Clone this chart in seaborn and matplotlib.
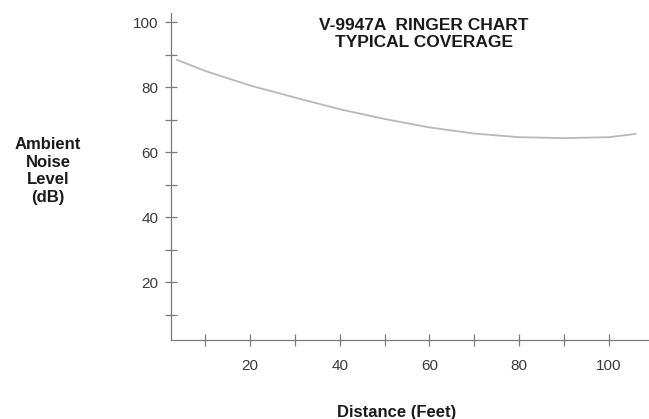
import matplotlib
matplotlib.use("Agg")
import matplotlib.pyplot as plt
import seaborn as sns
import pandas as pd
from matplotlib.ticker import MultipleLocator, FixedLocator

distance = [3.7, 10, 20, 30, 40, 50, 60, 70, 80, 90, 100, 106]
noise = [88.4, 85.0, 80.5, 76.8, 73.2, 70.2, 67.6, 65.7, 64.6, 64.3, 64.6, 65.6]
x_labels = [20, 40, 60, 80, 100]
y_labels = [20, 40, 60, 80, 100]

sns.set_theme(style="white")
plt.rcParams['font.family'] = ['Liberation Sans', 'DejaVu Sans']

df = pd.DataFrame({"Distance": distance, "Noise": noise})

fig = plt.figure(figsize=(6.49, 4.19), dpi=100)
ax = fig.add_axes([171/649, (419-340)/419, (648-171)/649, (340-13)/419])

sns.lineplot(data=df, x="Distance", y="Noise", ax=ax, color="#b8b8b8", linewidth=1.3)

ax.set_xlim(2.4, 108.7)
ax.set_ylim(2.2, 102.8)

ax.xaxis.set_major_locator(FixedLocator(x_labels))
ax.xaxis.set_minor_locator(MultipleLocator(10))
ax.yaxis.set_major_locator(FixedLocator(y_labels))
ax.yaxis.set_minor_locator(MultipleLocator(10))

for s in ["top", "right"]:
    ax.spines[s].set_visible(False)
for s in ["left", "bottom"]:
    ax.spines[s].set_color("#7a7a7a")
    ax.spines[s].set_linewidth(0.9)

ax.tick_params(axis="both", which="both", direction="inout", length=8, width=0.9,
               color="#7a7a7a", labelsize=11, labelcolor="#3a3a3a")
ax.tick_params(axis="x", which="both", bottom=True, pad=10)
ax.tick_params(axis="y", which="both", left=True, pad=5)

ax.set_xlabel("")
ax.set_ylabel("")

fig.text(397/649, 1 - 412/419, "Distance (Feet)", ha="center", va="center",
         fontsize=12, fontweight="bold", color="#1a1a1a")
fig.text(48/649, 1 - 171/419, "Ambient\nNoise\nLevel\n(dB)", ha="center", va="center",
         fontsize=12, fontweight="bold", color="#1a1a1a", linespacing=1.2)
fig.text(424/649, 1 - 34/419, "V-9947A  RINGER CHART\nTYPICAL COVERAGE", ha="center",
         va="center", fontsize=12.5, fontweight="bold", color="#1a1a1a", linespacing=1.12)

fig.savefig("out.png", dpi=100)
